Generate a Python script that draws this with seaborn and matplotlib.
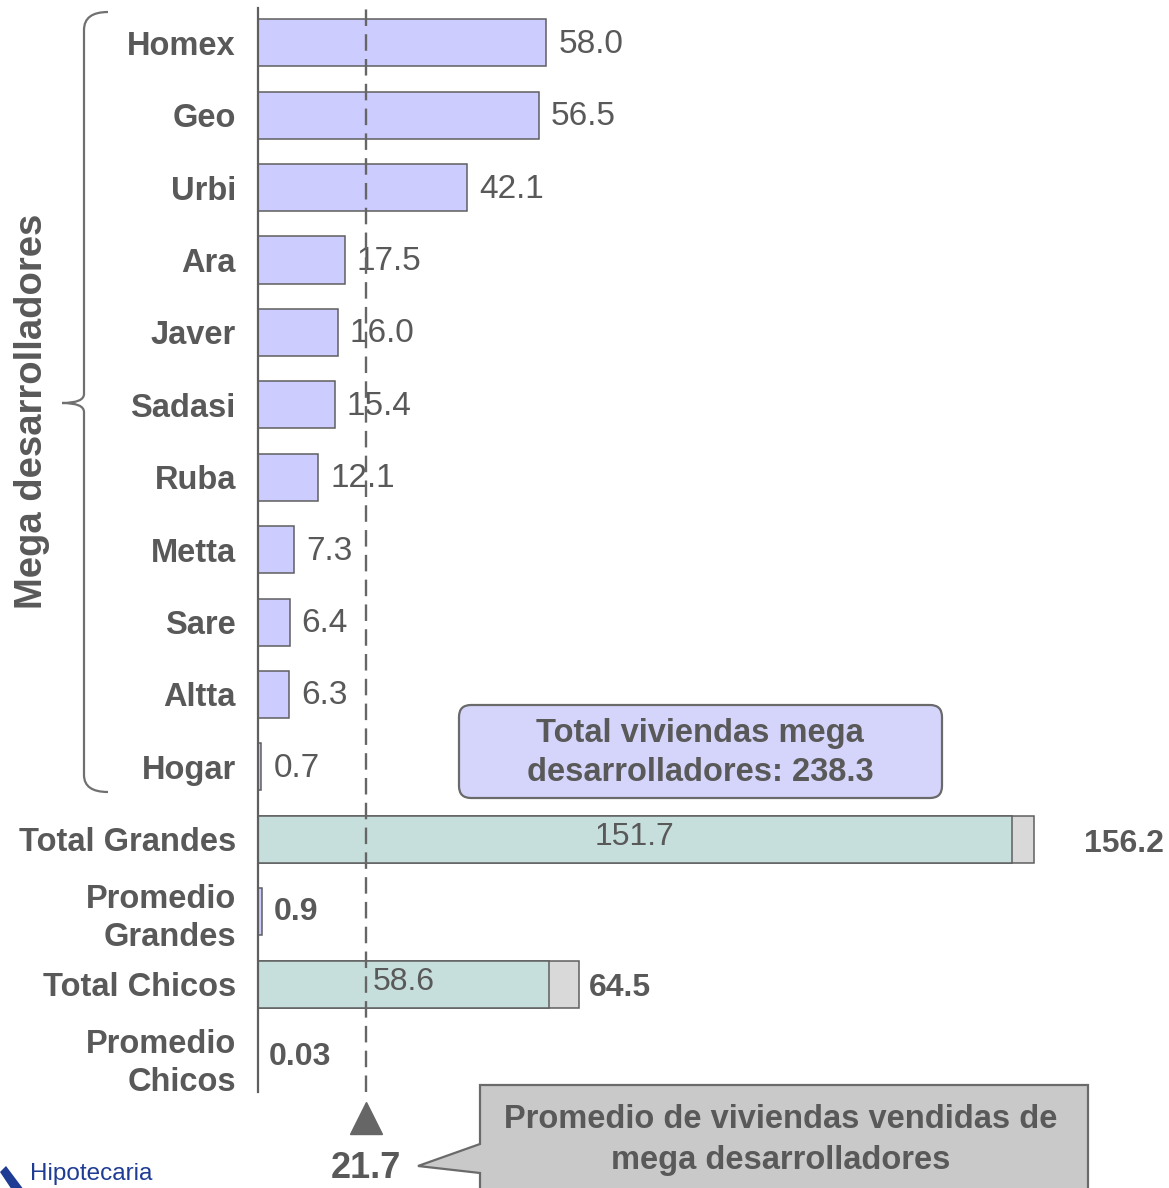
import matplotlib
matplotlib.use("Agg")
import matplotlib.pyplot as plt
import matplotlib.transforms as mtransforms
from matplotlib.path import Path
from matplotlib.patches import PathPatch, FancyBboxPatch, Polygon
import pandas as pd
import seaborn as sns

# --- data ---
companies = ["Homex", "Geo", "Urbi", "Ara", "Javer", "Sadasi", "Ruba", "Metta",
             "Sare", "Altta", "Hogar", "Total Grandes", "Promedio Grandes",
             "Total Chicos", "Promedio Chicos"]
viviendas = [58.0, 56.5, 42.1, 17.5, 16.0, 15.4, 12.1, 7.3, 6.4, 6.3, 0.7,
             151.7, 0.9, 58.6, 0.03]
value_labels = ["58.0", "56.5", "42.1", "17.5", "16.0", "15.4", "12.1", "7.3",
                "6.4", "6.3", "0.7", "151.7", "0.9", "58.6", "0.03"]
grupo = ["mega"] * 11 + ["total", "promedio", "total", "promedio"]
total_names = ["Total Grandes", "Total Chicos"]
total_values = [156.2, 64.5]
promedio_mega = 21.7
total_mega = 238.3

TXT = "#595959"
EDGE = "#5f5f5f"
colors = {"mega": "#ccccff", "total": "#c7dfdc", "promedio": "#ccccff"}

df = pd.DataFrame({"empresa": companies, "viviendas": viviendas, "grupo": grupo})
df_tot = pd.DataFrame({"empresa": total_names, "viviendas": total_values})

sns.set_theme(style="white")
plt.rcParams["font.family"] = ["Liberation Sans", "DejaVu Sans"]

W, H = 1169, 1188
fig = plt.figure(figsize=(W / 100, H / 100), dpi=100)
ax = fig.add_axes([258 / W, (H - 1092) / H, (W - 258) / W, (1092 - 8) / H])

# gray total segments underneath, then the main bars
sns.barplot(data=df_tot, x="viviendas", y="empresa", order=companies, orient="h",
            color="#d9d9d9", saturation=1, width=0.65, edgecolor=EDGE,
            linewidth=1.1, ax=ax)
sns.barplot(data=df, x="viviendas", y="empresa", order=companies, orient="h",
            hue="grupo", palette=colors, saturation=1, width=0.65,
            edgecolor=EDGE, linewidth=1.1, legend=False, dodge=False, ax=ax)

ax.set_xlim(0, 911 / 4.97)
ax.set_ylim(len(companies) - 0.51, -0.48)
ax.set_xlabel("")
ax.set_ylabel("")
ax.set_xticks([])
ax.set_yticks(range(len(companies)))
ax.set_yticklabels([c.replace("Promedio ", "Promedio\n") for c in companies],
                   fontsize=23.5, fontweight="bold", color=TXT, linespacing=1.3)
ax.tick_params(axis="y", length=0, pad=16)
for s in ["top", "right", "bottom"]:
    ax.spines[s].set_visible(False)
ax.spines["left"].set_color(EDGE)
ax.spines["left"].set_linewidth(1.6)
ax.patch.set_alpha(0)

# value labels
for i, (name, v, lab, g) in enumerate(zip(companies, viviendas, value_labels, grupo)):
    if g == "mega":
        ax.text(v + 2.4, i + 0.02, lab, va="center", ha="left", fontsize=24,
                color=TXT)
    elif g == "total":
        ax.text(v / 2, i - 0.03, lab, va="center", ha="center", fontsize=23,
                color=TXT)
    else:
        ax.text(max(v, 0) + 2.2, i, lab, va="center", ha="left", fontsize=23,
                color=TXT, fontweight="bold")
for name, tv in zip(total_names, total_values):
    i = companies.index(name)
    off = 10 if tv > 100 else 2
    ax.text(tv + off, i + 0.06, f"{tv:.1f}", va="center", ha="left", fontsize=23,
            color=TXT, fontweight="bold", clip_on=False)

# average line for mega developers
ax.axvline(promedio_mega, color="#666666", lw=1.7, dashes=(7, 3.5), zorder=6)

# overlay in pixel coordinates for annotations
ov = fig.add_axes([0, 0, 1, 1], zorder=10)
ov.set_xlim(0, W)
ov.set_ylim(H, 0)
ov.axis("off")
ov.patch.set_alpha(0)

blend = mtransforms.blended_transform_factory(ax.transData, ov.transData)
ov.plot([promedio_mega], [1118], marker="^", markersize=23, color="#666666",
        transform=blend, clip_on=False)
ov.text(promedio_mega, 1169, f"{promedio_mega}", transform=blend, ha="center",
        va="center", fontsize=26, fontweight="bold", color=TXT)

# curly bracket for mega developers
verts = [(108, 12), (84, 12), (84, 30), (84, 394), (84, 403), (62, 403),
         (62, 403), (84, 403), (84, 412), (84, 775), (84, 792), (108, 792)]
codes = [Path.MOVETO, Path.CURVE3, Path.CURVE3, Path.LINETO, Path.CURVE3, Path.CURVE3,
         Path.MOVETO, Path.CURVE3, Path.CURVE3, Path.LINETO, Path.CURVE3, Path.CURVE3]
ov.add_patch(PathPatch(Path(verts, codes), fc="none", ec="#707070", lw=1.6))
ov.text(32, 411, "Mega desarrolladores", rotation=90, ha="center", va="center",
        fontsize=27.5, fontweight="bold", color=TXT)

# total box
ov.add_patch(FancyBboxPatch((459, 705), 483, 93,
                            boxstyle="round,pad=0,rounding_size=12",
                            fc="#d5d5fb", ec="#6a6a6a", lw=1.6))
ov.text(700, 753, f"Total viviendas mega\ndesarrolladores: {total_mega}",
        ha="center", va="center", fontsize=23.5, fontweight="bold", color=TXT,
        linespacing=1.35)

# callout for the average
ov.add_patch(Polygon([(480, 1085), (1088, 1085), (1088, 1230), (480, 1230),
                      (480, 1173), (418, 1166), (480, 1144)], closed=True,
                     fc="#c9c9c9", ec="#6a6a6a", lw=1.6, clip_on=False))
ov.text(781, 1140, "Promedio de viviendas vendidas de\nmega desarrolladores",
        ha="center", va="center", fontsize=23.5, fontweight="bold", color=TXT,
        linespacing=1.4)

# logo fragment
ov.add_patch(Polygon([(0, 1172), (6, 1166), (24, 1190), (12, 1190)], closed=True,
                     fc="#1f3c94", ec="none", clip_on=False))
ov.text(30, 1174, "Hipotecaria", ha="left", va="center", fontsize=17.5,
        color="#1f3c94")

fig.savefig("out.png", dpi=100)
plt.close(fig)
